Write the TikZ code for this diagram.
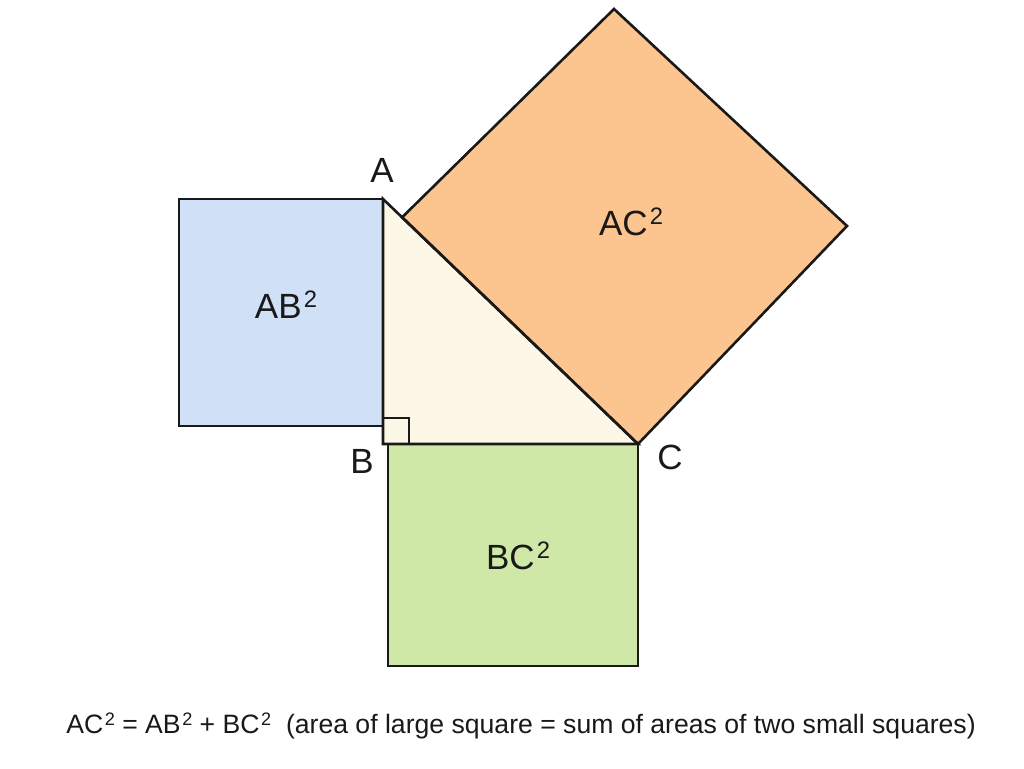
\documentclass[tikz,border=0pt]{standalone}
\usepackage{fontspec}
\setmainfont{Liberation Sans}
\newcommand{\sqtwo}{\kern0.06em\raisebox{0.31em}{\scalebox{0.68}{2}}}
\begin{document}
\begin{tikzpicture}[x=1pt,y=-1pt,
  edge/.style={line width=2.6pt,draw=black!90,line join=miter},
  lbl/.style={font=\fontsize{35}{38}\selectfont,text=black!90,inner sep=0pt},
  captext/.style={font=\fontsize{26.6}{30}\selectfont,text=black!90,inner sep=0pt}]
\definecolor{sqblue}{HTML}{CFE0F7}
\definecolor{sqorange}{HTML}{FCC48E}
\definecolor{sqgreen}{HTML}{CFE8A8}
\definecolor{tricream}{HTML}{FDF7E8}
\useasboundingbox (0,0) rectangle (1024,768);
\fill[white] (0,0) rectangle (1024,768);
% triangle vertices
\coordinate (A) at (383,199);
\coordinate (B) at (383,444);
\coordinate (C) at (638,444);
% square corners
\coordinate (b1) at (179,199);
\coordinate (b2) at (179,426);
\coordinate (b3) at (383,426);
\coordinate (g1) at (388,444);
\coordinate (g2) at (388,666);
\coordinate (g3) at (638,666);
\coordinate (o1) at (402.1,217.3);
\coordinate (o2) at (614,9);
\coordinate (o3) at (847,226);
\coordinate (r1) at (383,418);
\coordinate (r2) at (409,418);
\coordinate (r3) at (409,444);
% fills and outlines
\fill[tricream] (A) -- (B) -- (C) -- cycle;
\filldraw[edge,fill=sqblue] (A) -- (b1) -- (b2) -- (b3);
\filldraw[edge,fill=sqgreen] (g1) -- (g2) -- (g3) -- (C);
\filldraw[edge,fill=sqorange] (o1) -- (o2) -- (o3) -- (C) -- cycle;
\draw[edge] (A) -- (B) -- (C) -- cycle;
\draw[line width=2pt,black!90] (r1) -- (r2) -- (r3);
% labels
\node[lbl] (lA) at (382,170) {A};
\node[lbl] (lB) at (362,461) {B};
\node[lbl] (lC) at (670,457) {C};
\node[lbl] (sAB) at (286,305) {AB\sqtwo};
\node[lbl] (sAC) at (631,222) {AC\sqtwo};
\node[lbl] (sBC) at (518,556) {BC\sqtwo};
\node[captext] (eq) at (521,726) {AC\sqtwo{} = AB\sqtwo{} + BC\sqtwo\ \ (area of large square = sum of areas of two small squares)};
\end{tikzpicture}
\end{document}
